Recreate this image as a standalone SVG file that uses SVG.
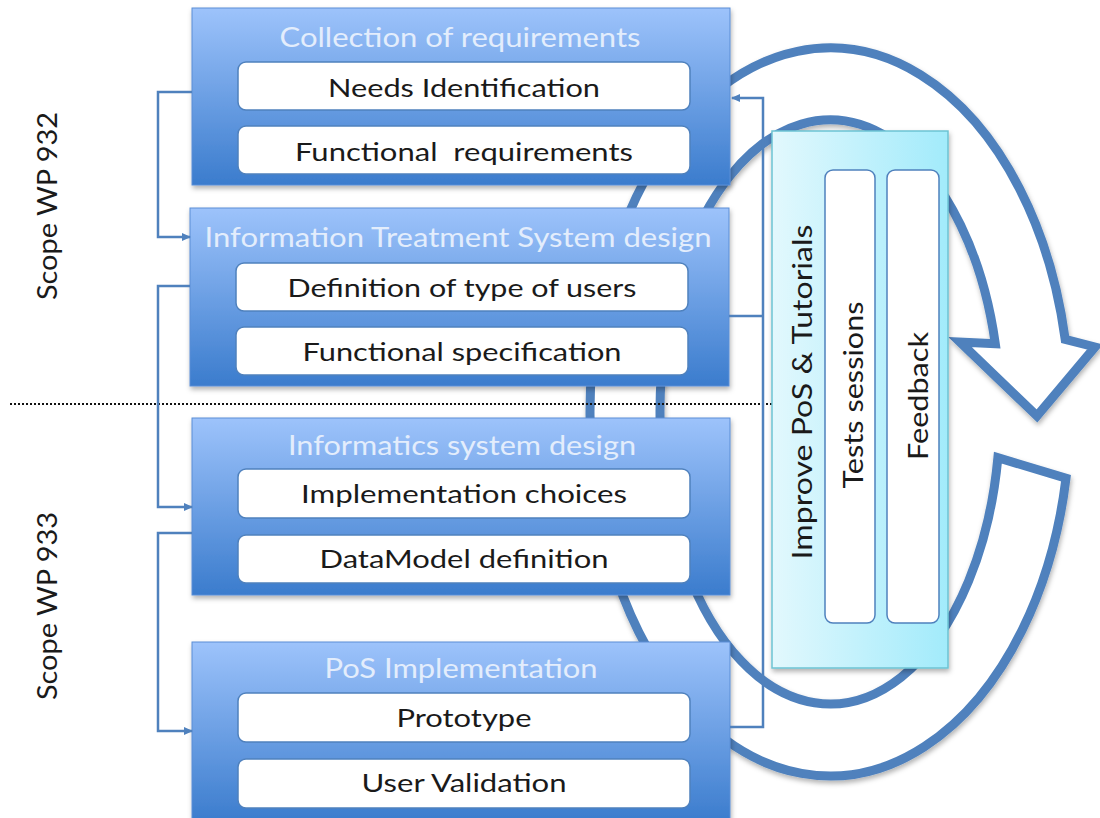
<svg xmlns="http://www.w3.org/2000/svg" width="1100" height="818" viewBox="0 0 1100 818">
<defs>
  <linearGradient id="gBlue" x1="0" y1="0" x2="0" y2="1">
    <stop offset="0" stop-color="#9dc3fb"/>
    <stop offset="1" stop-color="#3b7ccd"/>
  </linearGradient>
  <linearGradient id="gCyan" x1="0" y1="0" x2="1" y2="0">
    <stop offset="0" stop-color="#e2f8fd"/>
    <stop offset="1" stop-color="#a2ebfb"/>
  </linearGradient>
  <filter id="sh" x="-10%" y="-10%" width="120%" height="130%">
    <feDropShadow dx="1" dy="3" stdDeviation="2.5" flood-color="#000" flood-opacity="0.3"/>
  </filter>
  <marker id="arr" markerWidth="10" markerHeight="10" refX="8" refY="5" orient="auto" markerUnits="userSpaceOnUse">
    <path d="M0,1 L9,5 L0,9 Z" fill="#4f81bd"/>
  </marker>
  <style>
    .box { fill: url(#gBlue); stroke: #5a8ed6; stroke-width: 1; filter: url(#sh); }
    .inner { fill: #ffffff; stroke: #4f81bd; stroke-width: 1.5; }
    .title { font-family: Lato, "Open Sans", sans-serif; font-size: 27px; fill: #e3edfc; text-anchor: middle; }
    .lbl { font-family: Lato, "Open Sans", sans-serif; font-size: 25px; fill: #1a1a1a; text-anchor: middle; }
    .side { font-family: Lato, "Open Sans", sans-serif; font-size: 26px; fill: #1a1a1a; text-anchor: middle; }
    .conn { fill: none; stroke: #4f81bd; stroke-width: 2.5; }
    .ring { fill: #ffffff; stroke: #4f81bd; stroke-width: 9; stroke-linejoin: miter; }
  </style>
</defs>

<g id="cycle-arrow" filter="url(#sh)">
  <path class="ring" d="M 1066,478.3 A 240 364 0 1 1 1065.2,339.4 L 1095,347 L 1037,416 L 960,342 L 995.3,343.8 A 170 292 0 1 0 997.9,457.7 Z"/>
</g>

<g id="scope-labels">
  <text class="side" transform="translate(57,206) rotate(-90)" textLength="188" lengthAdjust="spacingAndGlyphs">Scope WP 932</text>
  <text class="side" transform="translate(57,606) rotate(-90)" textLength="188" lengthAdjust="spacingAndGlyphs">Scope WP 933</text>
  <line x1="10" y1="404" x2="772" y2="404" stroke="#111" stroke-width="2" stroke-dasharray="2 2"/>
</g>

<g id="box-collection">
  <rect class="box" x="192" y="8" width="538" height="177"/>
  <text class="title" x="460" y="47" textLength="361" lengthAdjust="spacingAndGlyphs">Collection of requirements</text>
  <rect class="inner" x="238" y="62" width="452" height="48" rx="8"/>
  <text class="lbl" x="464" y="97" textLength="272" lengthAdjust="spacingAndGlyphs">Needs Identification</text>
  <rect class="inner" x="238" y="126" width="452" height="48" rx="8"/>
  <text class="lbl" x="464" y="161" textLength="338" lengthAdjust="spacingAndGlyphs" xml:space="preserve">Functional  requirements</text>
</g>

<g id="box-its">
  <rect class="box" x="190" y="208" width="539" height="178"/>
  <text class="title" x="458" y="247" textLength="507" lengthAdjust="spacingAndGlyphs">Information Treatment System design</text>
  <rect class="inner" x="236" y="263" width="452" height="48" rx="8"/>
  <text class="lbl" x="462" y="297" textLength="349" lengthAdjust="spacingAndGlyphs">Definition of type of users</text>
  <rect class="inner" x="236" y="327" width="452" height="48" rx="8"/>
  <text class="lbl" x="462" y="361" textLength="319" lengthAdjust="spacingAndGlyphs">Functional specification</text>
</g>

<g id="box-informatics">
  <rect class="box" x="192" y="418" width="538" height="177"/>
  <text class="title" x="462" y="455" textLength="348" lengthAdjust="spacingAndGlyphs">Informatics system design</text>
  <rect class="inner" x="238" y="469" width="452" height="49" rx="8"/>
  <text class="lbl" x="464" y="503" textLength="326" lengthAdjust="spacingAndGlyphs">Implementation choices</text>
  <rect class="inner" x="238" y="535" width="452" height="48" rx="8"/>
  <text class="lbl" x="464" y="568" textLength="289" lengthAdjust="spacingAndGlyphs">DataModel definition</text>
</g>

<g id="box-pos">
  <rect class="box" x="192" y="642" width="538" height="180"/>
  <text class="title" x="461" y="678" textLength="273" lengthAdjust="spacingAndGlyphs">PoS Implementation</text>
  <rect class="inner" x="238" y="693" width="452" height="49" rx="8"/>
  <text class="lbl" x="464" y="727" textLength="135" lengthAdjust="spacingAndGlyphs">Prototype</text>
  <rect class="inner" x="238" y="759" width="452" height="49" rx="8"/>
  <text class="lbl" x="464" y="792" textLength="205" lengthAdjust="spacingAndGlyphs">User Validation</text>
</g>

<g id="box-improve">
  <rect x="772" y="131" width="176" height="537" fill="url(#gCyan)" stroke="#6cc3d3" stroke-width="1.5" filter="url(#sh)"/>
  <text class="side" font-size="28" transform="translate(812,392) rotate(-90)" textLength="335" lengthAdjust="spacingAndGlyphs">Improve PoS &amp; Tutorials</text>
  <rect class="inner" x="825" y="170" width="50" height="453" rx="8"/>
  <text class="side" transform="translate(863,395) rotate(-90)" textLength="187" lengthAdjust="spacingAndGlyphs">Tests sessions</text>
  <rect class="inner" x="887" y="170" width="52" height="453" rx="8"/>
  <text class="side" transform="translate(928,396) rotate(-90)" textLength="128" lengthAdjust="spacingAndGlyphs">Feedback</text>
</g>

<g id="connectors">
  <path class="conn" d="M192,92 H158 V237 H190" marker-end="url(#arr)"/>
  <path class="conn" d="M190,286 H158 V507 H192" marker-end="url(#arr)"/>
  <path class="conn" d="M192,533 H158 V731 H192" marker-end="url(#arr)"/>
  <path class="conn" d="M730,727 H763 V98 H732" marker-end="url(#arr)"/>
  <path class="conn" d="M729,316 H763"/>
</g>
</svg>
